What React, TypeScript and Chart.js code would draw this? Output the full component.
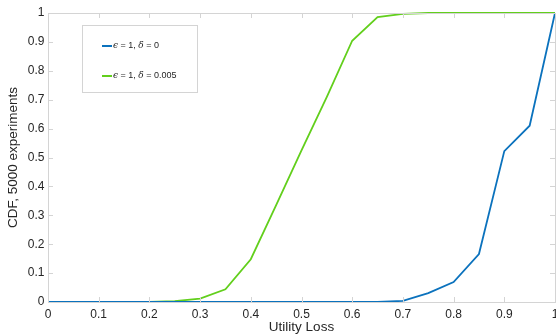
import React, { useEffect, useRef } from "react";
import { Chart, registerables } from "chart.js";

Chart.register(...registerables);

const xValues = [0, 0.05, 0.1, 0.15, 0.2, 0.25, 0.3, 0.35, 0.4, 0.45, 0.5, 0.55, 0.6, 0.65, 0.7, 0.75, 0.8, 0.85, 0.9, 0.95, 1];
const blueValues = [0, 0, 0, 0, 0, 0, 0, 0, 0, 0, 0, 0, 0, 0, 0.004, 0.031, 0.069, 0.166, 0.522, 0.61, 1];
const greenValues = [0, 0, 0, 0, 0, 0.003, 0.012, 0.044, 0.148, 0.335, 0.525, 0.71, 0.904, 0.986, 0.997, 1, 1, 1, 1, 1, 1];
const seriesLabels = ["ϵ = 1, δ = 0", "ϵ = 1, δ = 0.005"];
const xTickLabels = ["0", "0.1", "0.2", "0.3", "0.4", "0.5", "0.6", "0.7", "0.8", "0.9", "1"];
const yTickLabels = ["0", "0.1", "0.2", "0.3", "0.4", "0.5", "0.6", "0.7", "0.8", "0.9", "1"];
const xTitle = "Utility Loss";
const yTitle = "CDF, 5000 experiments";

const FONT = "'Liberation Sans', Arial, Helvetica, sans-serif";
const FRAME = "#d4d4d4";
const TEXT = "#262626";

const framePlugin = {
  id: "frame",
  afterDatasetsDraw(chart: any) {
    const { ctx, chartArea } = chart;
    const { left, right, top, bottom } = chartArea;
    ctx.save();
    ctx.strokeStyle = FRAME;
    ctx.lineWidth = 1;
    ctx.beginPath();
    const xs = chart.scales.x;
    const ys = chart.scales.y;
    const len = 5;
    xs.ticks.forEach((t: any) => {
      const px = Math.round(xs.getPixelForValue(t.value)) + 0.5;
      ctx.moveTo(px, bottom);
      ctx.lineTo(px, bottom - len);
      ctx.moveTo(px, top);
      ctx.lineTo(px, top + len);
    });
    ys.ticks.forEach((t: any) => {
      const py = Math.round(ys.getPixelForValue(t.value)) + 0.5;
      ctx.moveTo(left, py);
      ctx.lineTo(left + len, py);
      ctx.moveTo(right, py);
      ctx.lineTo(right - len, py);
    });
    ctx.stroke();
    ctx.strokeRect(Math.round(left) + 0.5, Math.round(top) + 0.5, Math.round(right - left), Math.round(bottom - top));
    ctx.restore();
  },
};

const legendPlugin = {
  id: "boxLegend",
  afterDraw(chart: any) {
    const { ctx } = chart;
    const bx = 82.5, by = 25.5, bw = 115, bh = 67;
    ctx.save();
    ctx.fillStyle = "#ffffff";
    ctx.fillRect(bx, by, bw, bh);
    ctx.strokeStyle = FRAME;
    ctx.lineWidth = 1;
    ctx.strokeRect(bx, by, bw, bh);
    const rows = [46, 76];
    chart.data.datasets.forEach((ds: any, i: number) => {
      const y = rows[i];
      ctx.strokeStyle = ds.borderColor;
      ctx.lineWidth = 2;
      ctx.beginPath();
      ctx.moveTo(102, y);
      ctx.lineTo(112, y);
      ctx.stroke();
      let x = 113;
      ctx.fillStyle = TEXT;
      ctx.textBaseline = "middle";
      for (const ch of ds.label as string) {
        const greek = ch === "ϵ" || ch === "δ";
        ctx.font = (greek ? "italic " : "") + "9px " + (greek ? "'DejaVu Serif', serif" : FONT);
        ctx.fillText(ch, x, y);
        x += ctx.measureText(ch).width;
      }
    });
    ctx.restore();
  },
};

function App() {
  const ref = useRef<HTMLCanvasElement | null>(null);
  useEffect(() => {
    if (!ref.current) return;
    const chart = new Chart(ref.current, {
      type: "line",
      data: {
        datasets: [
          {
            label: seriesLabels[0],
            data: xValues.map((x, i) => ({ x, y: blueValues[i] })),
            borderColor: "#0b72bd",
            borderWidth: 1.8,
            pointRadius: 0,
            tension: 0,
            clip: 4,
          },
          {
            label: seriesLabels[1],
            data: xValues.map((x, i) => ({ x, y: greenValues[i] })),
            borderColor: "#62cf1c",
            borderWidth: 1.8,
            pointRadius: 0,
            tension: 0,
            clip: 4,
          },
        ] as any,
      },
      options: {
        animation: false,
        responsive: false,
        layout: { padding: { top: 13, right: 1, left: 0, bottom: 0 } },
        plugins: { legend: { display: false }, tooltip: { enabled: false } },
        scales: {
          x: {
            type: "linear",
            min: 0,
            max: 1,
            grid: { display: false, tickLength: 0 },
            border: { display: false },
            ticks: {
              stepSize: 0.1,
              padding: 5,
              color: TEXT,
              font: { family: FONT, size: 12 },
              maxRotation: 0,
              callback: (_v: any, i: number) => xTickLabels[i],
            },
            title: { display: true, text: xTitle, color: TEXT, font: { family: FONT, size: 13.5 }, padding: { top: 0, bottom: 0 } },
            afterFit: (s: any) => { s.height = 33; s.paddingLeft = 0; s.paddingRight = 0; },
          },
          y: {
            type: "linear",
            min: 0,
            max: 1,
            grid: { display: false, tickLength: 0 },
            border: { display: false },
            ticks: {
              stepSize: 0.1,
              padding: 3.5,
              color: TEXT,
              font: { family: FONT, size: 12 },
              callback: (_v: any, i: number) => yTickLabels[i],
            },
            title: { display: true, text: yTitle, color: TEXT, font: { family: FONT, size: 13.5 }, padding: { top: 5, bottom: 0 } },
            afterFit: (s: any) => { s.width = 48; s.paddingTop = 0; s.paddingBottom = 0; },
          },
        },
      } as any,
      plugins: [framePlugin, legendPlugin],
    });
    return () => chart.destroy();
  }, []);
  return (
    <div style={{ position: "fixed", left: 0, top: 0, width: 556, height: 335, background: "#fff" }}>
      <canvas ref={ref} width={556} height={335} />
    </div>
  );
}

export default App;
